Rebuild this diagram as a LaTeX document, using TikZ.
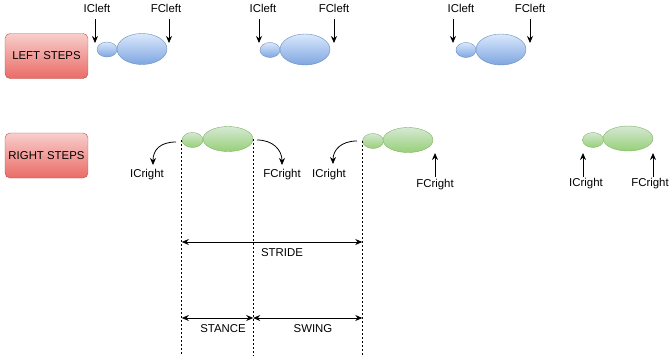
\documentclass[tikz,border=0pt]{standalone}
\usepackage{fontspec}
\setmainfont{Liberation Sans}
\usetikzlibrary{arrows.meta,shapes.geometric}

\definecolor{redtop}{HTML}{F8CECC}
\definecolor{redbot}{HTML}{EA6B66}
\definecolor{redline}{HTML}{B85450}
\definecolor{bluetop}{HTML}{DAE8FC}
\definecolor{bluebot}{HTML}{7EA6E0}
\definecolor{blueline}{HTML}{6C8EBF}
\definecolor{greentop}{HTML}{D5E8D4}
\definecolor{greenbot}{HTML}{97D077}
\definecolor{greenline}{HTML}{82B366}

\tikzset{
  stepbox/.style={rectangle, rounded corners=5pt, draw=redline, top color=redtop,
    bottom color=redbot, minimum width=83pt, minimum height=45pt, inner sep=0pt},
  leftheel/.style={ellipse, draw=blueline, top color=bluetop, bottom color=bluebot,
    minimum width=20pt, minimum height=15pt, inner sep=0pt},
  lefttoe/.style={ellipse, draw=blueline, top color=bluetop, bottom color=bluebot,
    minimum width=50pt, minimum height=31pt, inner sep=0pt},
  rightheel/.style={ellipse, draw=greenline, top color=greentop, bottom color=greenbot,
    minimum width=21pt, minimum height=15pt, inner sep=0pt},
  righttoe/.style={ellipse, draw=greenline, top color=greentop, bottom color=greenbot,
    minimum width=50pt, minimum height=25pt, inner sep=0pt},
  lbl/.style={inner sep=1pt},
  evt/.style={-{Stealth[length=7pt,width=6pt]}, line width=0.8pt},
  span/.style={{Stealth[length=7pt,width=6pt]}-{Stealth[length=7pt,width=6pt]}, line width=0.8pt},
  phase/.style={line width=0.7pt, dash pattern=on 2pt off 2pt},
}

\begin{document}
\begin{tikzpicture}[x=1pt, y=-1pt, font=\fontsize{11.4}{13}\selectfont]
  \useasboundingbox (0,0) rectangle (670,356);

  % row headers
  \node[stepbox] (leftrow) at (46.5,56) {LEFT STEPS};
  \node[stepbox] (rightrow) at (46.5,155.5) {RIGHT STEPS};

  % left foot prints
  \node[leftheel] (lh1) at (107,49.5) {};
  \node[lefttoe]  (lt1) at (142,49) {};
  \node[leftheel] (lh2) at (270,50) {};
  \node[lefttoe]  (lt2) at (305,49.5) {};
  \node[leftheel] (lh3) at (466,50) {};
  \node[lefttoe]  (lt3) at (501,49.5) {};

  % left contact events
  \node[lbl] (icl1) at (97,8) {ICleft};
  \node[lbl] (fcl1) at (166,8) {FCleft};
  \node[lbl] (icl2) at (263,8) {ICleft};
  \node[lbl] (fcl2) at (334,8) {FCleft};
  \node[lbl] (icl3) at (461,8) {ICleft};
  \node[lbl] (fcl3) at (530,8) {FCleft};

  \coordinate (icl1a) at (95,19);  \coordinate (icl1b) at (95,43);
  \coordinate (fcl1a) at (169,19); \coordinate (fcl1b) at (169,43);
  \coordinate (icl2a) at (259,19); \coordinate (icl2b) at (259,43);
  \coordinate (fcl2a) at (334,19); \coordinate (fcl2b) at (334,43);
  \coordinate (icl3a) at (453,19); \coordinate (icl3b) at (453,43);
  \coordinate (fcl3a) at (530,19); \coordinate (fcl3b) at (530,43);
  \foreach \e in {icl1,fcl1,icl2,fcl2,icl3,fcl3}
    \draw[evt] (\e a) -- (\e b);

  % right foot prints
  \node[rightheel] (rh1) at (192.5,140) {};
  \node[righttoe]  (rt1) at (228,139) {};
  \node[rightheel] (rh2) at (373,141) {};
  \node[righttoe]  (rt2) at (408,140) {};
  \node[rightheel] (rh3) at (593,140) {};
  \node[righttoe]  (rt3) at (628,138.5) {};

  % right contact events
  \node[lbl] (icr1) at (147,175) {ICright};
  \node[lbl] (fcr1) at (282,175) {FCright};
  \node[lbl] (icr2) at (329,175) {ICright};
  \node[lbl] (fcr2) at (435,185) {FCright};
  \node[lbl] (icr3) at (586,184) {ICright};
  \node[lbl] (fcr3) at (650,184) {FCright};

  \coordinate (icr1a) at (176,142); \coordinate (icr1b) at (153,165);
  \coordinate (fcr1a) at (257,140); \coordinate (fcr1b) at (282,165);
  \coordinate (icr2a) at (357,141); \coordinate (icr2b) at (333,164);
  \draw[evt] (icr1a) .. controls (160,142) and (153,150) .. (icr1b);
  \draw[evt] (fcr1a) .. controls (273,140) and (282,150) .. (fcr1b);
  \draw[evt] (icr2a) .. controls (341,141) and (333,150) .. (icr2b);

  \coordinate (fcr2a) at (435,177); \coordinate (fcr2b) at (435,153);
  \coordinate (icr3a) at (583,177); \coordinate (icr3b) at (583,153);
  \coordinate (fcr3a) at (653,177); \coordinate (fcr3b) at (653,153);
  \draw[evt] (fcr2a) -- (fcr2b);
  \draw[evt] (icr3a) -- (icr3b);
  \draw[evt] (fcr3a) -- (fcr3b);

  % gait phase boundaries
  \coordinate (b1) at (rh1.west |- 0,356);
  \coordinate (b2) at (rt1.east |- 0,356);
  \coordinate (b3) at (rh2.west |- 0,356);
  \draw[phase] (rh1.west) -- (b1);
  \draw[phase] (rt1.east) -- (b2);
  \draw[phase] (rh2.west) -- (b3);

  % stride, stance and swing spans
  \coordinate (s1) at (rh1.west |- 0,242);
  \coordinate (s3) at (rh2.west |- 0,242);
  \draw[span] (s1) -- (s3);
  \node[lbl] (stride) at (282,253) {STRIDE};

  \coordinate (p1) at (rh1.west |- 0,318);
  \coordinate (p2) at (rt1.east |- 0,318);
  \coordinate (p3) at (rh2.west |- 0,318);
  \draw[span] (p1) -- (p2);
  \draw[span] (p2) -- (p3);
  \node[lbl] (stance) at (223,329) {STANCE};
  \node[lbl] (swing) at (313,329) {SWING};
\end{tikzpicture}
\end{document}
